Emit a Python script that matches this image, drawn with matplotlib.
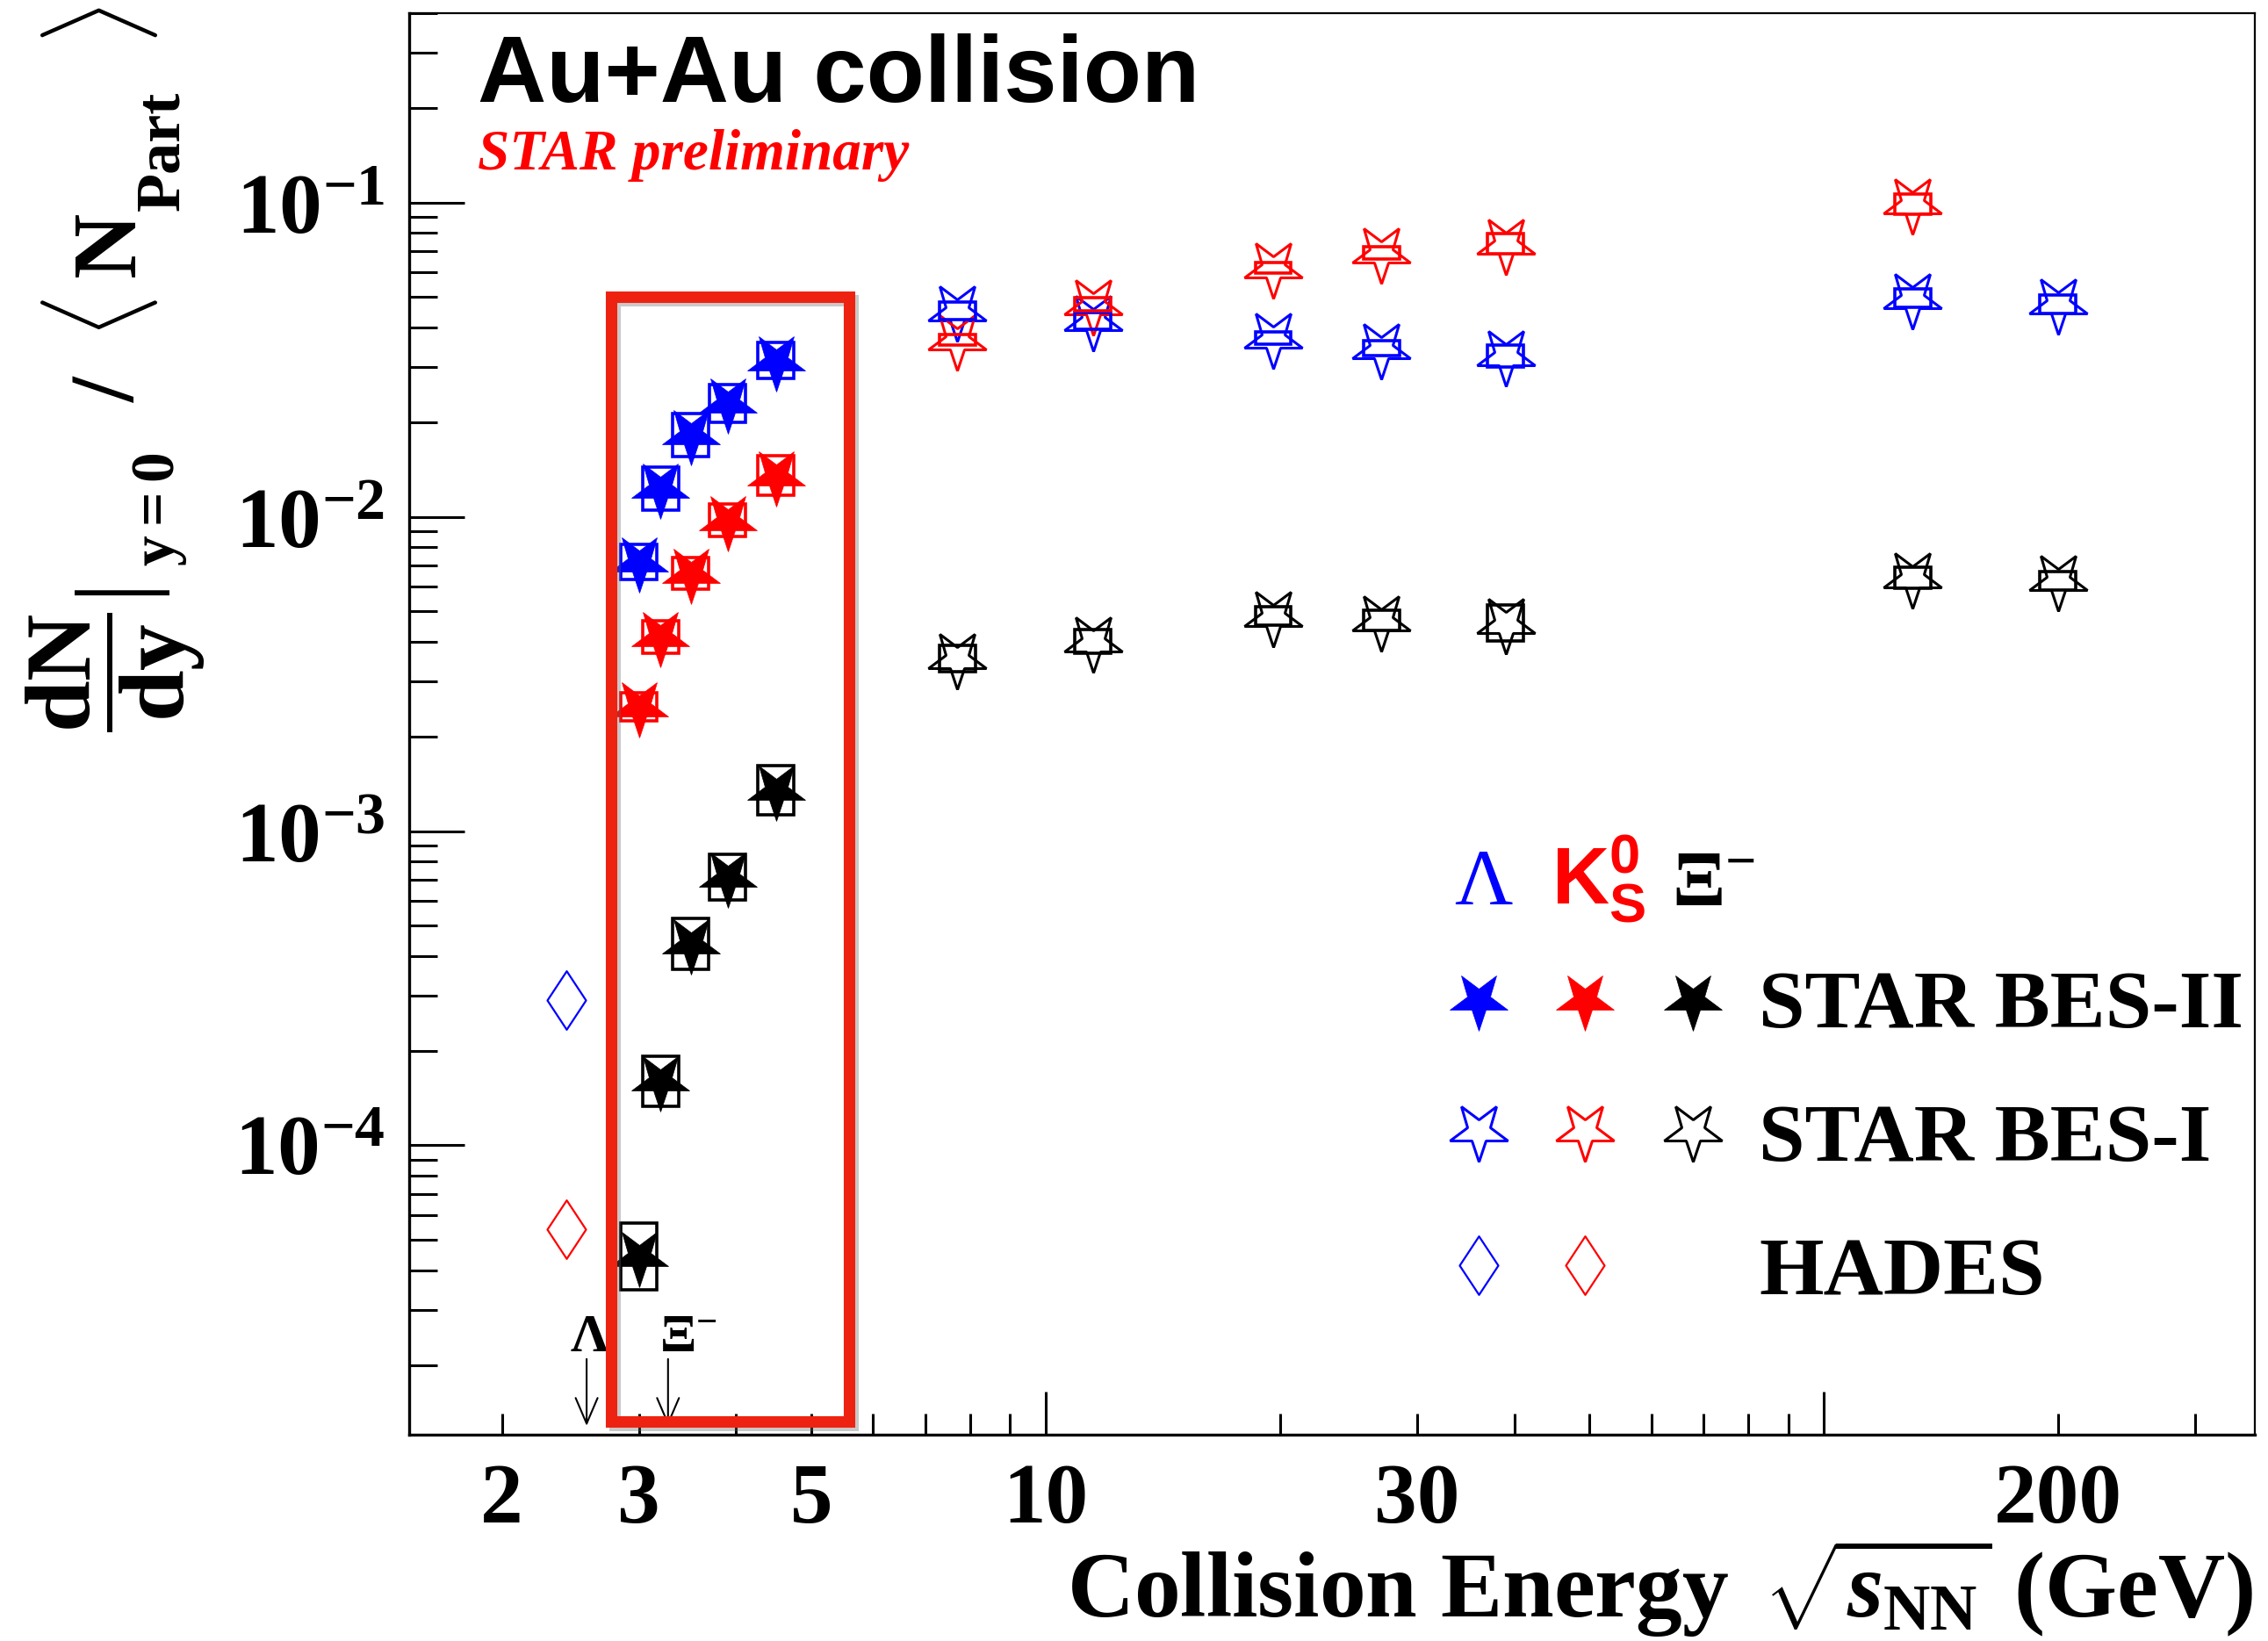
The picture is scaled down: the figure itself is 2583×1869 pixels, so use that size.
import matplotlib
matplotlib.use('Agg')
import matplotlib.pyplot as plt
import numpy as np
from matplotlib.markers import MarkerStyle
from matplotlib.path import Path
from matplotlib.patches import Rectangle
from matplotlib.transforms import Affine2D
from matplotlib.ticker import FixedLocator, FuncFormatter, LogLocator, NullFormatter
import matplotlib.patheffects as pe

plt.rcParams['font.family'] = 'Liberation Serif'
plt.rcParams['font.weight'] = 'bold'
plt.rcParams['mathtext.fontset'] = 'custom'
plt.rcParams['mathtext.rm'] = 'Liberation Serif:bold'
plt.rcParams['mathtext.bf'] = 'Liberation Serif:bold'
plt.rcParams['mathtext.it'] = 'Liberation Serif:italic:bold'
plt.rcParams['mathtext.sf'] = 'Liberation Sans:bold'

# ---- data: dN/dy|y=0 / <Npart>, collision energy sqrt(s_NN) in GeV ----
e_bes2 = [3.0, 3.2, 3.5, 3.9, 4.5]
lam_bes2 = [7.2e-3, 1.23e-2, 1.82e-2, 2.30e-2, 3.14e-2]
k0s_bes2 = [2.48e-3, 4.15e-3, 6.61e-3, 9.75e-3, 1.35e-2]
xi_bes2 = [4.44e-5, 1.60e-4, 4.38e-4, 7.14e-4, 1.35e-3]
# relative systematic errors (boxes)
lam_bes2_sys = [0.137, 0.171, 0.171, 0.148, 0.141]
k0s_bes2_sys = [0.108, 0.126, 0.123, 0.126, 0.156]
xi_bes2_sys = [0.277, 0.201, 0.205, 0.182, 0.197]

e_lam_bes1 = [7.7, 11.5, 19.6, 27, 39, 130, 200]
lam_bes1 = [0.0451, 0.0420, 0.0371, 0.0344, 0.0325, 0.0496, 0.0475]
lam_bes1_sys = [0.066, 0.066, 0.046, 0.056, 0.084, 0.070, 0.070]
e_k0s_bes1 = [7.7, 11.5, 19.6, 27, 39, 130]
k0s_bes1 = [0.0366, 0.0474, 0.0621, 0.0691, 0.0739, 0.0989]
k0s_bes1_sys = [0.039, 0.049, 0.039, 0.048, 0.077, 0.077]
e_xi_bes1 = [7.7, 11.5, 19.6, 27, 39, 130, 200]
xi_bes1 = [3.54e-3, 4.01e-3, 4.83e-3, 4.67e-3, 4.58e-3, 6.41e-3, 6.27e-3]
xi_bes1_sys = [0.101, 0.091, 0.070, 0.077, 0.141, 0.080, 0.070]

e_hades = [2.42]
lam_hades = [2.9e-4]
k0s_hades = [5.41e-5]

# production thresholds
thr_energy = [2.57, 3.27]
thr_label = ['Λ', r'$\Xi^{-}$']

x_labeled = [2, 3, 5, 10, 30, 200]

BLUE, RED, BLACK = '#0000ff', '#ff0000', '#000000'
W, H = 2583, 1869

fig = plt.figure(figsize=(25.83, 18.69), dpi=100)
ax = fig.add_axes([0.1804, 0.1257, 0.8138, 0.8662])
ax.set_xscale('log')
ax.set_yscale('log')
ax.set_xlim(1.52, 358)
ax.set_ylim(1.2e-5, 0.4)

star_full = MarkerStyle('*', fillstyle='full', transform=Affine2D().rotate_deg(180))
star_open = MarkerStyle('*', fillstyle='none', transform=Affine2D().rotate_deg(180))
thin_diamond = Path([(0, 1), (0.66, 0), (0, -1), (-0.66, 0), (0, 1)],
                    [Path.MOVETO, Path.LINETO, Path.LINETO, Path.LINETO, Path.CLOSEPOLY])

BOX_FX = 10 ** 0.0231  # half box width in log-x


def sys_boxes(x, y, rel, color):
    for xi, yi, ri in zip(x, y, rel):
        lo, hi = yi / (1 + ri), yi * (1 + ri)
        ax.add_patch(Rectangle((xi / BOX_FX, lo), xi * BOX_FX - xi / BOX_FX, hi - lo,
                               fill=False, ec=color, lw=2.6, zorder=4))


for x, y, s, c in [(e_bes2, lam_bes2, lam_bes2_sys, BLUE),
                   (e_bes2, k0s_bes2, k0s_bes2_sys, RED),
                   (e_bes2, xi_bes2, xi_bes2_sys, BLACK)]:
    ax.plot(x, y, ls='none', marker=star_full, ms=50, color=c, mec=c, mew=0.5, zorder=3)
    sys_boxes(x, y, s, c)

for x, y, s, c in [(e_lam_bes1, lam_bes1, lam_bes1_sys, BLUE),
                   (e_k0s_bes1, k0s_bes1, k0s_bes1_sys, RED),
                   (e_xi_bes1, xi_bes1, xi_bes1_sys, BLACK)]:
    ax.plot(x, y, ls='none', marker=star_open, ms=50, mec=c, mfc='none', mew=2.2, zorder=3)
    sys_boxes(x, y, s, c)

ax.plot(e_hades, lam_hades, ls='none', marker=thin_diamond, ms=48, mec=BLUE, mfc='none', mew=1.6)
ax.plot(e_hades, k0s_hades, ls='none', marker=thin_diamond, ms=48, mec=RED, mfc='none', mew=1.6)

# threshold arrows
for xe in thr_energy:
    ax.annotate('', xy=(xe, 1.28e-5), xytext=(xe, 2.09e-5),
                arrowprops=dict(arrowstyle='->,head_length=1.05,head_width=0.45',
                                lw=1.5, color='black', shrinkA=0, shrinkB=0, mutation_scale=20))
ax.text(2.59, 2.21e-5, thr_label[0], ha='center', va='baseline', fontsize=44)
ax.text(3.19, 2.21e-5, thr_label[1], ha='left', va='baseline', fontsize=44)

# red highlight box
hl = Rectangle((2.763, 1.32e-5), 5.587 - 2.763, 0.0502 - 1.32e-5, fill=False,
               ec='#ee2211', lw=9.4, zorder=6, clip_on=False)
hl.set_path_effects([pe.SimpleLineShadow(offset=(3, -3), shadow_color='0.4', alpha=0.35), pe.Normal()])
ax.add_patch(hl)

# axes / ticks
ax.xaxis.set_major_locator(FixedLocator([10, 100]))
ax.xaxis.set_minor_locator(FixedLocator([2, 3, 4, 5, 6, 7, 8, 9, 20, 30, 40, 50, 60, 70, 80, 90, 200, 300]))
xfmt = FuncFormatter(lambda v, p: '%g' % v if round(v) in x_labeled else '')
ax.xaxis.set_major_formatter(xfmt)
ax.xaxis.set_minor_formatter(xfmt)
ax.yaxis.set_major_locator(LogLocator(base=10))
ax.yaxis.set_minor_locator(LogLocator(base=10, subs=np.arange(2, 10)))
ax.yaxis.set_major_formatter(FuncFormatter(lambda v, p: r'$\mathbf{10^{%d}}$' % round(np.log10(v))))
ax.yaxis.set_minor_formatter(NullFormatter())

ax.tick_params(axis='x', which='major', direction='in', length=35, width=2.2, labelsize=70, pad=23)
ax.tick_params(axis='x', which='minor', direction='in', length=17, width=2.2, labelsize=70, pad=23)
ax.tick_params(axis='y', which='major', direction='in', length=45, width=2.2, labelsize=70, pad=20)
ax.tick_params(axis='y', which='minor', direction='in', length=23, width=2.2)
ax.spines['left'].set_linewidth(2.4)
ax.spines['bottom'].set_linewidth(2.4)
ax.spines['top'].set_linewidth(1.6)
ax.spines['right'].set_linewidth(1.6)


# y title, built from pieces (pixel positions in the full-size figure)
def ytext(s, xb, ys, size, ha='left', **kw):
    fig.text(xb / W, 1 - ys / H, s, rotation=90, rotation_mode='anchor',
             ha=ha, va='baseline', fontsize=size, **kw)


ytext(r'$\dfrac{\mathrm{dN}}{\mathrm{dy}}$', 152, 834, 76)
ytext('|', 160, 666, 85, ha='center', weight='normal')
ytext(r'$\mathrm{y = 0}$', 198, 645, 50)
ytext('/', 153, 458, 74)
ytext(r'$\langle$', 155, 363, 80, ha='center')
ytext('N', 153, 315, 74)
ytext('Part', 203, 240, 52)
ytext(r'$\rangle$', 155, 29, 80, ha='center')

fig.text(2566 / W, 1 - 1842 / H, r'Collision Energy $\,\sqrt{s_{\mathrm{NN}}}$ (GeV)',
         ha='right', va='baseline', fontsize=76)

ax.text(0.0369, 0.938, 'Au+Au collision', transform=ax.transAxes, family='Liberation Sans',
        weight='bold', fontsize=78, va='baseline')
ax.text(0.0369, 0.890, 'STAR preliminary', transform=ax.transAxes, style='italic',
        weight='bold', color='red', fontsize=47, va='baseline')

# legend
col_x = [0.5793, 0.637, 0.6953]
cols = [BLUE, RED, BLACK]
row_y = [0.306, 0.2137, 0.119]
text_y = [0.2866, 0.193, 0.0991]
row_text = ['STAR BES-II', 'STAR BES-I', 'HADES']
ax.text(0.582, 0.373, 'Λ', color=BLUE, fontsize=66, weight='normal', ha='center', va='baseline',
        transform=ax.transAxes)
ax.text(0.619, 0.373, r'$\mathsf{K}^{\mathsf{0}}_{\mathsf{S}}$', color=RED, fontsize=65, ha='left',
        va='baseline', transform=ax.transAxes)
ax.text(0.684, 0.373, r'$\Xi^{-}$', color=BLACK, fontsize=64, ha='left', va='baseline',
        transform=ax.transAxes)
for xc, c in zip(col_x, cols):
    ax.plot([xc], [row_y[0]], marker=star_full, ms=50, color=c, mew=0.5, transform=ax.transAxes, clip_on=False)
    ax.plot([xc], [row_y[1]], marker=star_open, ms=50, mec=c, mfc='none', mew=2.2,
            transform=ax.transAxes, clip_on=False)
for xc, c in zip(col_x[:2], cols[:2]):
    ax.plot([xc], [row_y[2]], marker=thin_diamond, ms=48, mec=c, mfc='none', mew=1.6,
            transform=ax.transAxes, clip_on=False)
for ty, t in zip(text_y, row_text):
    ax.text(0.7312, ty, t, fontsize=68, ha='left', va='baseline', transform=ax.transAxes)

fig.savefig('out.png', dpi=100, facecolor='white')
